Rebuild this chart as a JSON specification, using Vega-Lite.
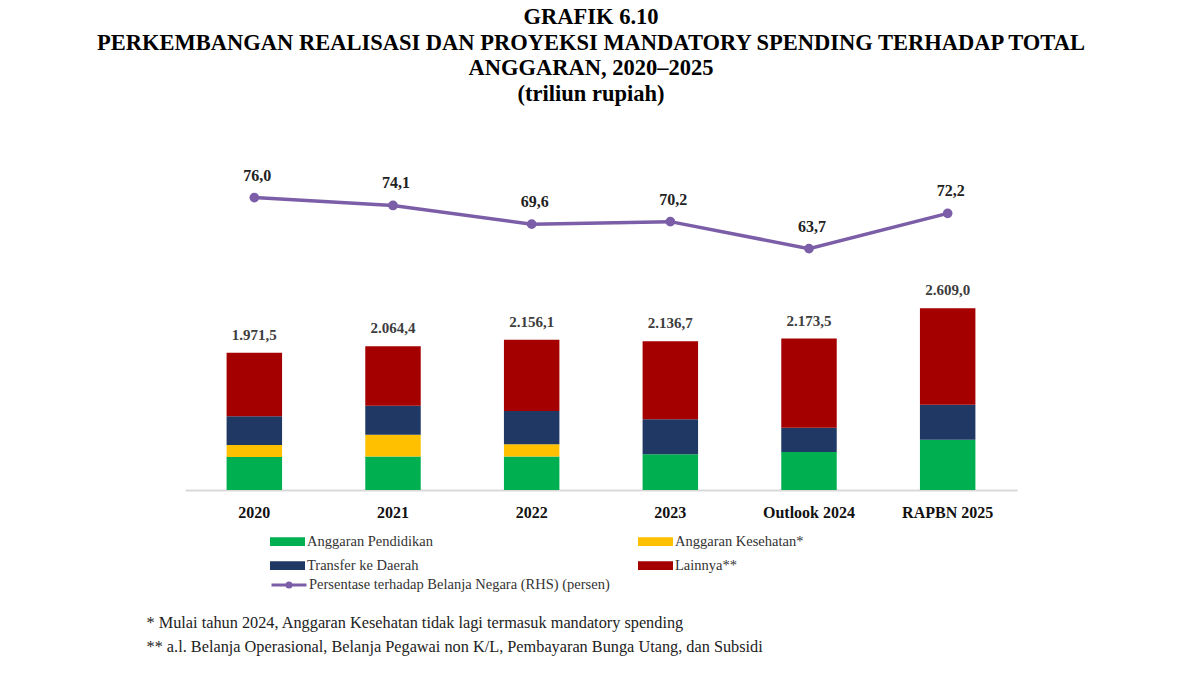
{
  "$schema": "https://vega.github.io/schema/vega-lite/v6.json",
  "width": 832,
  "height": 340,
  "autosize": "none",
  "padding": {"left": 185, "top": 150, "right": 183, "bottom": 185},
  "background": "white",
  "config": {
    "view": {"stroke": null},
    "locale": {"number": {"decimal": ",", "thousands": ".", "grouping": [3], "currency": ["Rp", ""]}},
    "font": "Liberation Serif"
  },
  "title": {
    "text": ["GRAFIK 6.10", "PERKEMBANGAN REALISASI DAN PROYEKSI MANDATORY SPENDING TERHADAP TOTAL", "ANGGARAN, 2020–2025", "(triliun rupiah)"],
    "font": "Liberation Serif",
    "fontSize": 22.5,
    "fontWeight": "bold",
    "color": "#000000",
    "lineHeight": 25.5,
    "anchor": "middle",
    "dx": -10,
    "offset": 45
  },
  "datasets": {
    "segments": [
      {"tahun": "2020", "komponen": "Anggaran Pendidikan", "urutan": 1, "nilai": 473.7},
      {"tahun": "2020", "komponen": "Anggaran Kesehatan*", "urutan": 2, "nilai": 172.3},
      {"tahun": "2020", "komponen": "Transfer ke Daerah", "urutan": 3, "nilai": 412.0},
      {"tahun": "2020", "komponen": "Lainnya**", "urutan": 4, "nilai": 913.5},
      {"tahun": "2021", "komponen": "Anggaran Pendidikan", "urutan": 1, "nilai": 479.6},
      {"tahun": "2021", "komponen": "Anggaran Kesehatan*", "urutan": 2, "nilai": 312.4},
      {"tahun": "2021", "komponen": "Transfer ke Daerah", "urutan": 3, "nilai": 416.0},
      {"tahun": "2021", "komponen": "Lainnya**", "urutan": 4, "nilai": 856.4},
      {"tahun": "2022", "komponen": "Anggaran Pendidikan", "urutan": 1, "nilai": 480.3},
      {"tahun": "2022", "komponen": "Anggaran Kesehatan*", "urutan": 2, "nilai": 176.7},
      {"tahun": "2022", "komponen": "Transfer ke Daerah", "urutan": 3, "nilai": 478.0},
      {"tahun": "2022", "komponen": "Lainnya**", "urutan": 4, "nilai": 1021.1},
      {"tahun": "2023", "komponen": "Anggaran Pendidikan", "urutan": 1, "nilai": 513.4},
      {"tahun": "2023", "komponen": "Transfer ke Daerah", "urutan": 3, "nilai": 503.0},
      {"tahun": "2023", "komponen": "Lainnya**", "urutan": 4, "nilai": 1120.3},
      {"tahun": "Outlook 2024", "komponen": "Anggaran Pendidikan", "urutan": 1, "nilai": 546.0},
      {"tahun": "Outlook 2024", "komponen": "Transfer ke Daerah", "urutan": 3, "nilai": 349.0},
      {"tahun": "Outlook 2024", "komponen": "Lainnya**", "urutan": 4, "nilai": 1278.5},
      {"tahun": "RAPBN 2025", "komponen": "Anggaran Pendidikan", "urutan": 1, "nilai": 722.6},
      {"tahun": "RAPBN 2025", "komponen": "Transfer ke Daerah", "urutan": 3, "nilai": 503.0},
      {"tahun": "RAPBN 2025", "komponen": "Lainnya**", "urutan": 4, "nilai": 1383.4}
    ],
    "years": [
      {"tahun": "2020", "total": 1971.5, "persen": 76.0},
      {"tahun": "2021", "total": 2064.4, "persen": 74.1},
      {"tahun": "2022", "total": 2156.1, "persen": 69.6},
      {"tahun": "2023", "total": 2136.7, "persen": 70.2},
      {"tahun": "Outlook 2024", "total": 2173.5, "persen": 63.7},
      {"tahun": "RAPBN 2025", "total": 2609.0, "persen": 72.2}
    ]
  },
  "encoding": {
    "x": {
      "field": "tahun",
      "type": "nominal",
      "sort": ["2020", "2021", "2022", "2023", "Outlook 2024", "RAPBN 2025"],
      "scale": {"paddingInner": 0.6, "paddingOuter": 0.3},
      "axis": {
        "labelAngle": 0,
        "labelFont": "Liberation Serif",
        "labelFontSize": 16,
        "labelFontWeight": "bold",
        "labelColor": "#111111",
        "labelPadding": 14,
        "ticks": false,
        "domainColor": "#d9d9d9",
        "domainWidth": 2,
        "title": ["\u00a0\u00a0* Mulai tahun 2024, Anggaran Kesehatan tidak lagi termasuk mandatory spending", "** a.l. Belanja Operasional, Belanja Pegawai non K/L, Pembayaran Bunga Utang, dan Subsidi"],
        "titleFont": "Liberation Serif",
        "titleFontWeight": "normal",
        "titleFontSize": 16.3,
        "titleColor": "#222222",
        "titleAnchor": "start",
        "titleAlign": "left",
        "titleBaseline": "alphabetic",
        "titleLineHeight": 24,
        "titleX": -39,
        "titleY": 137
      }
    }
  },
  "layer": [
    {
      "data": {"name": "segments"},
      "mark": {"type": "bar"},
      "encoding": {
        "y": {"field": "nilai", "type": "quantitative", "stack": "zero", "scale": {"domain": [0, 4881], "nice": false}, "axis": null},
        "order": {"field": "urutan", "type": "quantitative"},
        "color": {
          "field": "komponen",
          "type": "nominal",
          "sort": ["Anggaran Pendidikan", "Anggaran Kesehatan*", "Transfer ke Daerah", "Lainnya**"],
          "scale": {"domain": ["Anggaran Pendidikan", "Anggaran Kesehatan*", "Transfer ke Daerah", "Lainnya**"], "range": ["#00b050", "#ffc000", "#1f3864", "#a50000"]},
          "legend": {
            "orient": "none",
            "legendX": 85,
            "legendY": 374,
            "direction": "horizontal",
            "columns": 2,
            "columnPadding": 204,
            "rowPadding": -4,
            "title": null,
            "symbolType": "M-1,-0.25L1,-0.25L1,0.25L-1,0.25Z",
            "symbolSize": 1225,
            "symbolStrokeWidth": 0,
            "symbolOpacity": 1,
            "labelFont": "Liberation Serif",
            "labelFontSize": 14.5,
            "labelColor": "#333333",
            "labelOffset": 2,
            "labelLimit": 400
          }
        }
      }
    },
    {
      "data": {"name": "years"},
      "mark": {"type": "text", "baseline": "bottom", "dy": -10, "font": "Liberation Serif", "fontSize": 15, "fontWeight": "bold", "color": "#3d3d3d"},
      "encoding": {
        "y": {"field": "total", "type": "quantitative", "scale": {"domain": [0, 4881], "nice": false}, "axis": null},
        "text": {"field": "total", "type": "quantitative", "format": ",.1f"}
      }
    },
    {
      "data": {"name": "years"},
      "mark": {"type": "line", "strokeWidth": 3.5, "point": {"filled": true, "size": 60, "color": "#7b5ea7"}},
      "encoding": {
        "y": {"field": "persen", "type": "quantitative", "scale": {"domain": [5.475, 87.48], "nice": false, "zero": false}, "axis": null},
        "stroke": {
          "datum": "Persentase terhadap Belanja Negara (RHS) (persen)",
          "scale": {"range": ["#7b5ea7"]},
          "legend": {
            "orient": "none",
            "legendX": 85,
            "legendY": 416,
            "title": null,
            "symbolType": "M-1,0L1,0M-0.12,0A0.12,0.12,0,1,1,0.12,0A0.12,0.12,0,1,1,-0.12,0Z",
            "symbolSize": 1225,
            "symbolStrokeWidth": 3,
            "symbolStrokeColor": "#7b5ea7",
            "symbolFillColor": "#7b5ea7",
            "labelFont": "Liberation Serif",
            "labelFontSize": 14.5,
            "labelColor": "#333333",
            "labelOffset": 1,
            "labelLimit": 400
          }
        }
      }
    },
    {
      "data": {"name": "years"},
      "mark": {"type": "text", "baseline": "bottom", "dx": 3, "dy": -14, "font": "Liberation Serif", "fontSize": 16, "fontWeight": "bold", "color": "#222222"},
      "encoding": {
        "y": {"field": "persen", "type": "quantitative", "scale": {"domain": [5.475, 87.48], "nice": false, "zero": false}, "axis": null},
        "text": {"field": "persen", "type": "quantitative", "format": ".1f"}
      }
    }
  ],
  "resolve": {"scale": {"y": "independent"}}
}
